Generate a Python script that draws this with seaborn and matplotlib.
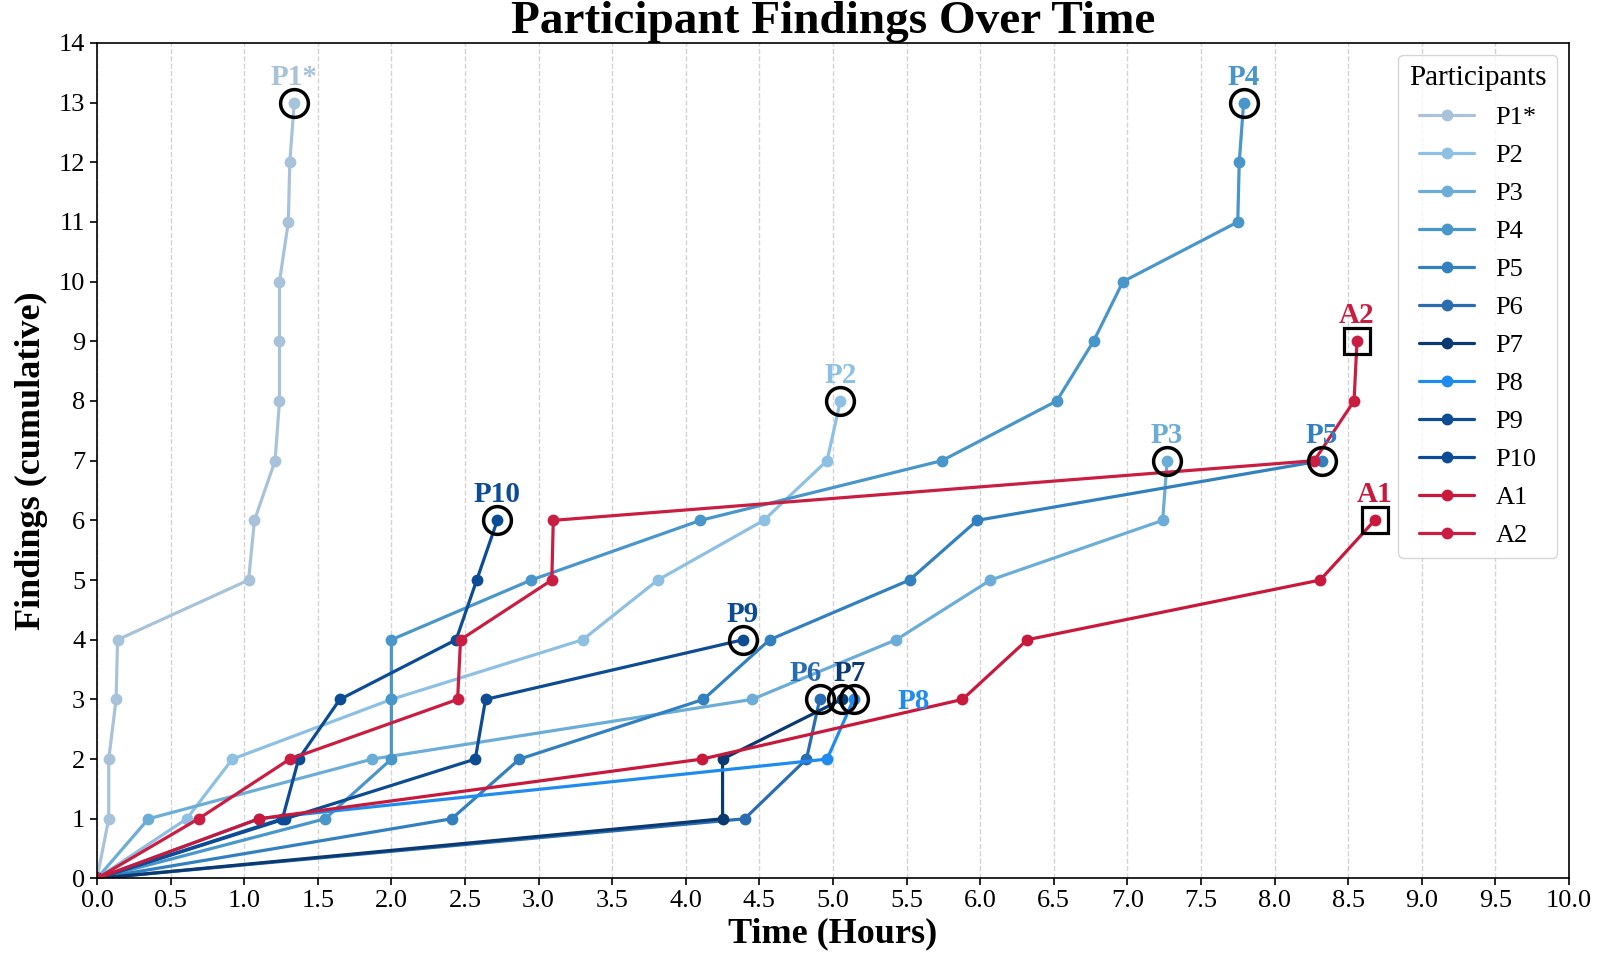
import matplotlib
matplotlib.use("Agg")
import numpy as np
import pandas as pd
import matplotlib.pyplot as plt
import seaborn as sns

# time (hours) of each cumulative finding
p1_t = [0, 0.08, 0.08, 0.13, 0.14, 1.03, 1.07, 1.21, 1.24, 1.24, 1.24, 1.30, 1.31, 1.34]
p1_y = [0, 1, 2, 3, 4, 5, 6, 7, 8, 9, 10, 11, 12, 13]
p2_t = [0, 0.61, 0.92, 2.00, 3.30, 3.81, 4.53, 4.96, 5.05]
p2_y = [0, 1, 2, 3, 4, 5, 6, 7, 8]
p3_t = [0, 0.35, 1.87, 4.45, 5.43, 6.07, 7.24, 7.27]
p3_y = [0, 1, 2, 3, 4, 5, 6, 7]
p4_t = [0, 1.55, 2.00, 2.00, 2.00, 2.95, 4.10, 5.74, 6.52, 6.77, 6.97, 7.75, 7.76, 7.79]
p4_y = [0, 1, 2, 3, 4, 5, 6, 7, 8, 9, 10, 11, 12, 13]
p5_t = [0, 2.41, 2.87, 4.12, 4.57, 5.52, 5.98, 8.32]
p5_y = [0, 1, 2, 3, 4, 5, 6, 7]
p6_t = [0, 4.40, 4.82, 4.91]
p6_y = [0, 1, 2, 3]
p7_t = [0, 4.25, 4.25, 5.06]
p7_y = [0, 1, 2, 3]
p8_t = [0, 1.10, 4.96, 5.14]
p8_y = [0, 1, 2, 3]
p9_t = [0, 1.28, 2.57, 2.64, 4.39]
p9_y = [0, 1, 2, 3, 4]
p10_t = [0, 1.26, 1.37, 1.65, 2.44, 2.58, 2.72]
p10_y = [0, 1, 2, 3, 4, 5, 6]
a1_t = [0, 1.10, 4.11, 5.88, 6.32, 8.31, 8.68]
a1_y = [0, 1, 2, 3, 4, 5, 6]
a2_t = [0, 0.69, 1.31, 2.45, 2.47, 3.09, 3.10, 8.27, 8.54, 8.56]
a2_y = [0, 1, 2, 3, 4, 5, 6, 7, 8, 9]

names = ["P1*", "P2", "P3", "P4", "P5", "P6", "P7", "P8", "P9", "P10", "A1", "A2"]
times = [p1_t, p2_t, p3_t, p4_t, p5_t, p6_t, p7_t, p8_t, p9_t, p10_t, a1_t, a2_t]
counts = [p1_y, p2_y, p3_y, p4_y, p5_y, p6_y, p7_y, p8_y, p9_y, p10_y, a1_y, a2_y]
colors = ["#a7c2d9", "#8dc0e2", "#6badd7", "#4996ca", "#3280bf", "#2a6cb0",
          "#0b3a72", "#1f8bef", "#0d4b92", "#0c4b95", "#c8193c", "#c91e42"]

# label offsets in points (dx, dy)
label_off = {"P6": (-10, 13), "P7": (6, 13), "P8": (32, -7)}

sns.set_style("ticks")
plt.rcParams['font.family'] = ['Liberation Serif', 'DejaVu Serif']
plt.rcParams['text.color'] = 'black'
plt.rcParams['axes.labelcolor'] = 'black'
plt.rcParams['xtick.color'] = 'black'
plt.rcParams['ytick.color'] = 'black'

fig = plt.figure(figsize=(16, 9.68), dpi=100)
ax = fig.add_axes([0.0606, 0.0925, 0.92, 0.8632])

for name, t, y, c in zip(names, times, counts, colors):
    df = pd.DataFrame({"Time": t, "Findings": y})
    sns.lineplot(data=df, x="Time", y="Findings", ax=ax, color=c, label=name,
                 estimator=None, sort=False, marker="o", markersize=8.5,
                 markeredgewidth=0, linewidth=2.3)

# end markers and labels
for name, t, y, c in zip(names, times, counts, colors):
    if name.startswith("A"):
        ax.plot(t[-1], y[-1], marker="s", ms=19, mfc="none", mec="black", mew=2.3, zorder=5)
    else:
        ax.plot(t[-1], y[-1], marker="o", ms=20, mfc="none", mec="black", mew=2.5, zorder=5)
    dx, dy = label_off.get(name, (0, 13))
    ha = "left" if name == "P8" else "center"
    ax.annotate(name, (t[-1], y[-1]), xytext=(dx, dy), textcoords="offset points",
                ha=ha, va="baseline", fontsize=21, fontweight="bold", color=c, zorder=6)

ax.set_xlim(0, 10)
ax.set_ylim(0, 14)
ax.set_xticks(np.arange(0, 10.01, 0.5))
ax.set_yticks(np.arange(0, 15, 1))
ax.set_xticklabels([f"{v:.1f}" for v in np.arange(0, 10.01, 0.5)])
ax.tick_params(labelsize=19, length=5, width=1.2, colors="black")
ax.grid(axis="x", linestyle="--", color="#d4d4d4", linewidth=1)
ax.set_axisbelow(True)
for s in ax.spines.values():
    s.set_visible(True)
    s.set_color("black")
    s.set_linewidth(1.2)

ax.set_xlabel("Time (Hours)", fontsize=26, fontweight="bold", labelpad=4)
ax.set_ylabel("Findings (cumulative)", fontsize=26, fontweight="bold", labelpad=8)
ax.set_title("Participant Findings Over Time", fontsize=34, fontweight="bold", pad=2)

leg = ax.legend(title="Participants", loc="upper right", fontsize=19, title_fontsize=21,
                labelspacing=0.55, handlelength=2.1, borderaxespad=0.45, frameon=True)

fig.savefig("out.png", dpi=100)
